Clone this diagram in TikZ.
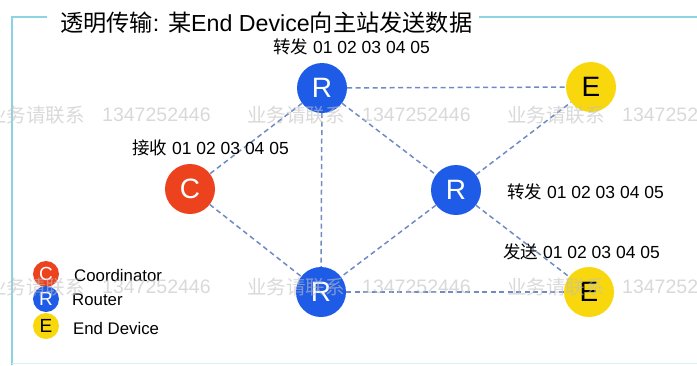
\documentclass[tikz,border=0pt]{standalone}
\usepackage{fontspec}
\setmainfont{Liberation Sans}
\newfontfamily\zhfont{Noto Sans CJK SC}
\usetikzlibrary{positioning}

\definecolor{routerblue}{RGB}{30,92,232}
\definecolor{coordred}{RGB}{236,66,30}
\definecolor{devyellow}{RGB}{248,216,12}
\definecolor{linkgray}{RGB}{112,138,196}
\definecolor{framecyan}{RGB}{140,212,226}

\tikzset{
  dev/.style={circle, minimum size=50pt, inner sep=0pt, font=\fontsize{28}{30}\selectfont},
  router/.style={dev, fill=routerblue, text=white},
  coordinator/.style={dev, fill=coordred, text=white},
  enddev/.style={dev, fill=devyellow, text=black},
  legdot/.style={minimum size=26pt, font=\fontsize{19}{20}\selectfont},
  legtext/.style={anchor=west, inner sep=0pt, font=\fontsize{16.8}{18}\selectfont},
  link/.style={linkgray, line width=1.5pt, dash pattern=on 5pt off 3.5pt},
  msg/.style={anchor=west, inner sep=0pt, font=\fontsize{17.5}{20}\selectfont},
  wmark/.style={anchor=west, inner sep=0pt, text=gray!50, opacity=0.6, font=\fontsize{19.5}{20}\selectfont}
}

\begin{document}
\begin{tikzpicture}[x=1pt,y=-1pt]
\useasboundingbox (0,0) rectangle (697,365);
% frame and title
\node[anchor=west, inner xsep=0pt, font=\fontsize{23.2}{25}\selectfont] (title) at (60,23) {{\zhfont 透明传输}: {\zhfont 某}End Device{\zhfont 向主站发送数据}};
\draw[framecyan, line width=2pt] (12,365) -- (12,17) -- ([xshift=-13pt,yshift=6pt]title.west);
\draw[framecyan, line width=2pt] ([xshift=7pt,yshift=6pt]title.east) -- (697,17);
\draw[framecyan!35, line width=1pt] (12,363) -- (697,363);

% network
\node[router] (rtop) at (322,88) {R};
\node[enddev] (etop) at (591,87) {E};
\node[coordinator] (coord) at (190,189) {C};
\node[router] (rmid) at (456,190) {R};
\node[router] (rbot) at (321,292) {R};
\node[enddev] (ebot) at (589,292) {E};

\draw[link] (rtop) -- (etop);
\draw[link] (rtop) -- (coord);
\draw[link] (rtop) -- (rbot);
\draw[link] (rtop) -- (rmid);
\draw[link] (coord) -- (rbot);
\draw[link] (rmid) -- (etop);
\draw[link] (rmid) -- (rbot);
\draw[link] (rmid) -- (ebot);
\draw[link] (rbot) -- (ebot);

% messages
\node[msg] (fwtop) at (273,47) {{\zhfont 转发} 01 02 03 04 05};
\node[msg] (recv) at (132,148) {{\zhfont 接收} 01 02 03 04 05};
\node[msg] (fwmid) at (507,192) {{\zhfont 转发} 01 02 03 04 05};
\node[msg] (send) at (503,252) {{\zhfont 发送} 01 02 03 04 05};

% legend
\node[coordinator, legdot] (legc) at (46,274) {C};
\node[router, legdot] (legr) at (46,299) {R};
\node[enddev, legdot] (lege) at (46,326) {E};
\node[legtext] (legct) at (74,275) {Coordinator};
\node[legtext] (legrt) at (72,300) {Router};
\node[legtext] (leget) at (73,328) {End Device};

% watermark
\foreach \dx in {0,260,520} {
  \foreach \wy in {115,287} {
    \node[wmark] (wz-\dx-\wy) at (-13+\dx,\wy) {\zhfont 业务请联系};
    \node[wmark] (wn-\dx-\wy) at (102+\dx,\wy) {1347252446};
  }
}
\end{tikzpicture}
\end{document}
